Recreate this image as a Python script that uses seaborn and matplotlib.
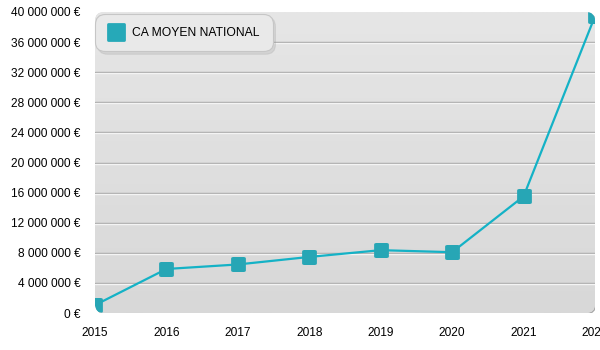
import numpy as np
import pandas as pd
import matplotlib
matplotlib.use("Agg")
import matplotlib.pyplot as plt
import seaborn as sns
from matplotlib.patches import FancyBboxPatch
from matplotlib.lines import Line2D
from matplotlib.markers import MarkerStyle
from matplotlib.colors import LinearSegmentedColormap
from matplotlib.ticker import FuncFormatter, MultipleLocator
import matplotlib.transforms as mtransforms

years = [2015, 2016, 2017, 2018, 2019, 2020, 2021, 2022]
ca_moyen = [1.05e6, 5.85e6, 6.45e6, 7.45e6, 8.35e6, 8.08e6, 15.5e6, 39.45e6]
series_label = "CA MOYEN NATIONAL"

sns.set_theme(style="white")
plt.rcParams['font.family'] = ['Liberation Sans', 'DejaVu Sans']
plt.rcParams['text.color'] = 'black'

rsq = MarkerStyle("s", joinstyle="round")

fig = plt.figure(figsize=(6, 3.5), dpi=100)
ax = fig.add_axes([95 / 600, 1 - 313 / 350, 500 / 600, 301 / 350])
ax.patch.set_visible(False)
for s in ax.spines.values():
    s.set_visible(False)

aw, ah = 500.0, 301.0
rs = 9.0 / aw
shadow = FancyBboxPatch((0, 0), 1, 1, boxstyle=f"round,pad=0,rounding_size={rs}",
                        mutation_aspect=aw / ah,
                        transform=ax.transAxes + mtransforms.ScaledTranslation(1 / 100, -1 / 100, fig.dpi_scale_trans),
                        facecolor="#a9a9a9", edgecolor="none", zorder=0)
ax.add_patch(shadow)
bg = FancyBboxPatch((0, 0), 1, 1, boxstyle=f"round,pad=0,rounding_size={rs}",
                    mutation_aspect=aw / ah, transform=ax.transAxes,
                    facecolor="#dfdfdf", edgecolor="none", zorder=0.5)
ax.add_patch(bg)
grad = np.linspace(0, 1, 256)[:, None]
cmap = LinearSegmentedColormap.from_list("bg", ["#e6e6e6", "#d8d8d8"])
im = ax.imshow(grad, extent=[0, 1, 0, 1], origin="upper", transform=ax.transAxes, cmap=cmap,
               aspect="auto", zorder=0.6, interpolation="bilinear")
im.set_clip_path(bg)

df = pd.DataFrame({"year": years, "ca": ca_moyen})
sns.lineplot(data=df, x="year", y="ca", ax=ax, color="#14b2c6", linewidth=1.6,
             marker=rsq, markersize=9, markerfacecolor="#27a6b5",
             markeredgecolor="#27a6b5", markeredgewidth=2.0, zorder=5, legend=False)
for ln in ax.lines:
    ln.set_clip_path(bg)

ax.set_xlim(2015, 2022)
ax.set_ylim(0, 40e6)
ax.yaxis.set_major_locator(MultipleLocator(4e6))
ax.set_xticks(years)
ax.yaxis.set_major_formatter(FuncFormatter(lambda v, p: f"{v:,.0f}".replace(",", " ") + " €"))

white_off = mtransforms.ScaledTranslation(0, -1 / 100, fig.dpi_scale_trans)
for yv in np.arange(4e6, 40e6, 4e6):
    l1 = ax.axhline(yv, color="#a6a6a6", lw=1.0, zorder=1)
    l2 = ax.axhline(yv, color="#f4f4f4", lw=1.0, zorder=1)
    l2.set_transform(l2.get_transform() + white_off)
    l1.set_clip_path(bg)
    l2.set_clip_path(bg)

ax.set_xlabel("")
ax.set_ylabel("")
ax.tick_params(axis="both", length=0, labelsize=8.6, colors="black")
ax.tick_params(axis="x", pad=10)
ax.tick_params(axis="y", pad=10.5)

handle = Line2D([], [], marker=rsq, linestyle="none", markersize=11.5,
                markerfacecolor="#26a9b8", markeredgecolor="#26a9b8", markeredgewidth=2.0)
leg = ax.legend(handles=[handle], labels=[series_label], loc="upper left",
                bbox_to_anchor=(0.0, 0.993), fontsize=8.7, frameon=True, fancybox=True,
                shadow={"color": "0.6", "alpha": 0.22}, borderpad=1.05,
                handletextpad=0.75, handlelength=1.3, borderaxespad=0)
for t in leg.get_texts():
    t.set_color("black")
fr = leg.get_frame()
fr.set_facecolor("#e9e9e9")
fr.set_edgecolor("#c6c6c6")
fr.set_alpha(1)
fr.set_linewidth(0.8)
fr.set_boxstyle("round", pad=0, rounding_size=0.8)
leg.set_zorder(10)

fig.savefig("out.png", dpi=100)
